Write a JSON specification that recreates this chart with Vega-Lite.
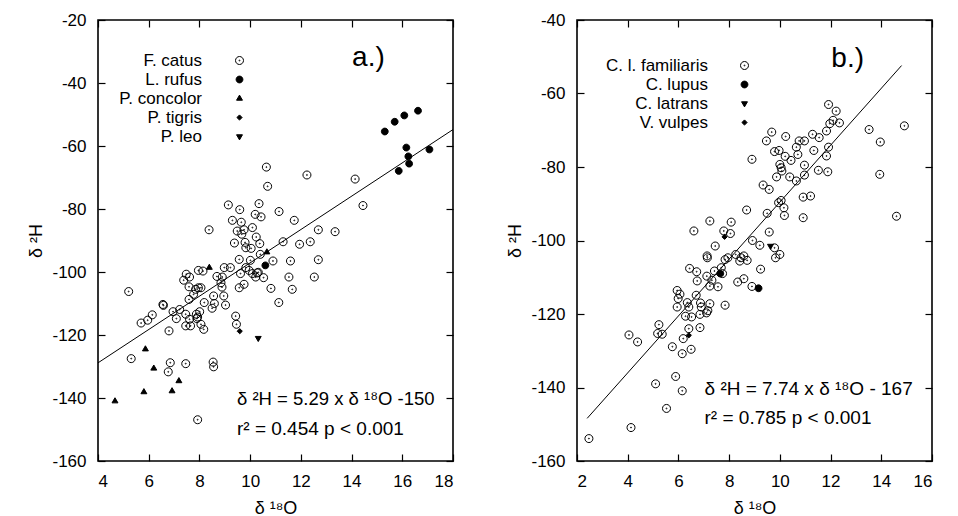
{
  "$schema": "https://vega.github.io/schema/vega-lite/v6.json",
  "padding": {"left": 27, "top": 10, "right": 5, "bottom": 2},
  "background": "white",
  "bounds": "flush",
  "spacing": 124,
  "config": {
    "view": {"stroke": "black", "strokeWidth": 1.6},
    "font": "Liberation Sans",
    "axis": {
      "grid": false, "domain": false, "ticks": true, "tickSize": 7, "offset": -7, "tickColor": "#000000", "tickWidth": 1.2, "tickOpacity": 1,
      "labelFont": "Liberation Sans", "labelFontSize": 17, "labelColor": "black", "labelPadding": 12,
      "labelExpr": "'' + datum.value",
      "titleFont": "Liberation Sans", "titleFontSize": 18, "titleFontWeight": "normal", "titleColor": "black"
    },
    "legend": {"labelFont": "Liberation Sans"}
  },
  "datasets": {
    "cats": [
      {"x":5.21,"y":-106.2,"sp":"F. catus"},{"x":5.31,"y":-127.5,"sp":"F. catus"},{"x":5.70,"y":-116.2,"sp":"F. catus"},{"x":5.96,"y":-115.3,"sp":"F. catus"},{"x":6.14,"y":-113.6,"sp":"F. catus"},{"x":6.56,"y":-110.3,"sp":"F. catus"},{"x":6.58,"y":-110.6,"sp":"F. catus"},{"x":6.96,"y":-112.6,"sp":"F. catus"},{"x":6.80,"y":-118.7,"sp":"F. catus"},{"x":7.09,"y":-114.8,"sp":"F. catus"},{"x":7.22,"y":-111.9,"sp":"F. catus"},{"x":7.38,"y":-102.6,"sp":"F. catus"},{"x":7.48,"y":-100.7,"sp":"F. catus"},{"x":7.61,"y":-101.6,"sp":"F. catus"},{"x":7.46,"y":-113.4,"sp":"F. catus"},{"x":7.46,"y":-117.1,"sp":"F. catus"},{"x":7.61,"y":-115.0,"sp":"F. catus"},{"x":7.65,"y":-117.1,"sp":"F. catus"},{"x":7.59,"y":-108.7,"sp":"F. catus"},{"x":7.59,"y":-104.7,"sp":"F. catus"},{"x":7.77,"y":-107.1,"sp":"F. catus"},{"x":7.88,"y":-113.4,"sp":"F. catus"},{"x":7.90,"y":-114.8,"sp":"F. catus"},{"x":7.85,"y":-105.5,"sp":"F. catus"},{"x":7.96,"y":-105.0,"sp":"F. catus"},{"x":7.96,"y":-99.5,"sp":"F. catus"},{"x":8.14,"y":-99.7,"sp":"F. catus"},{"x":8.06,"y":-105.0,"sp":"F. catus"},{"x":8.01,"y":-112.6,"sp":"F. catus"},{"x":7.93,"y":-114.3,"sp":"F. catus"},{"x":8.06,"y":-116.6,"sp":"F. catus"},{"x":8.17,"y":-118.2,"sp":"F. catus"},{"x":8.19,"y":-109.7,"sp":"F. catus"},{"x":8.50,"y":-111.5,"sp":"F. catus"},{"x":8.56,"y":-107.6,"sp":"F. catus"},{"x":8.59,"y":-110.0,"sp":"F. catus"},{"x":8.38,"y":-86.6,"sp":"F. catus"},{"x":8.69,"y":-101.4,"sp":"F. catus"},{"x":8.85,"y":-103.4,"sp":"F. catus"},{"x":8.90,"y":-101.6,"sp":"F. catus"},{"x":8.89,"y":-104.8,"sp":"F. catus"},{"x":8.96,"y":-107.6,"sp":"F. catus"},{"x":9.03,"y":-110.5,"sp":"F. catus"},{"x":8.98,"y":-98.6,"sp":"F. catus"},{"x":9.22,"y":-98.6,"sp":"F. catus"},{"x":9.14,"y":-78.7,"sp":"F. catus"},{"x":9.30,"y":-83.6,"sp":"F. catus"},{"x":9.38,"y":-90.8,"sp":"F. catus"},{"x":9.49,"y":-87.0,"sp":"F. catus"},{"x":9.59,"y":-80.2,"sp":"F. catus"},{"x":9.65,"y":-84.2,"sp":"F. catus"},{"x":9.67,"y":-88.0,"sp":"F. catus"},{"x":9.76,"y":-86.6,"sp":"F. catus"},{"x":9.80,"y":-90.6,"sp":"F. catus"},{"x":9.83,"y":-92.3,"sp":"F. catus"},{"x":9.57,"y":-96.0,"sp":"F. catus"},{"x":9.62,"y":-100.5,"sp":"F. catus"},{"x":9.57,"y":-105.0,"sp":"F. catus"},{"x":9.76,"y":-103.9,"sp":"F. catus"},{"x":9.83,"y":-98.6,"sp":"F. catus"},{"x":9.96,"y":-99.5,"sp":"F. catus"},{"x":10.01,"y":-96.3,"sp":"F. catus"},{"x":10.04,"y":-92.5,"sp":"F. catus"},{"x":10.09,"y":-85.9,"sp":"F. catus"},{"x":10.20,"y":-81.7,"sp":"F. catus"},{"x":10.24,"y":-88.9,"sp":"F. catus"},{"x":10.35,"y":-78.3,"sp":"F. catus"},{"x":10.43,"y":-82.5,"sp":"F. catus"},{"x":10.38,"y":-91.0,"sp":"F. catus"},{"x":10.40,"y":-94.4,"sp":"F. catus"},{"x":10.32,"y":-100.1,"sp":"F. catus"},{"x":10.28,"y":-100.3,"sp":"F. catus"},{"x":10.09,"y":-100.5,"sp":"F. catus"},{"x":10.22,"y":-101.6,"sp":"F. catus"},{"x":10.53,"y":-101.8,"sp":"F. catus"},{"x":10.64,"y":-66.7,"sp":"F. catus"},{"x":10.69,"y":-72.8,"sp":"F. catus"},{"x":10.90,"y":-96.5,"sp":"F. catus"},{"x":10.82,"y":-105.2,"sp":"F. catus"},{"x":11.14,"y":-80.8,"sp":"F. catus"},{"x":11.13,"y":-109.7,"sp":"F. catus"},{"x":11.30,"y":-90.4,"sp":"F. catus"},{"x":11.59,"y":-96.5,"sp":"F. catus"},{"x":11.53,"y":-101.6,"sp":"F. catus"},{"x":11.66,"y":-105.5,"sp":"F. catus"},{"x":11.74,"y":-83.6,"sp":"F. catus"},{"x":11.95,"y":-91.2,"sp":"F. catus"},{"x":12.24,"y":-69.2,"sp":"F. catus"},{"x":12.37,"y":-90.4,"sp":"F. catus"},{"x":12.69,"y":-86.6,"sp":"F. catus"},{"x":12.69,"y":-96.1,"sp":"F. catus"},{"x":12.53,"y":-101.6,"sp":"F. catus"},{"x":13.35,"y":-87.2,"sp":"F. catus"},{"x":14.14,"y":-70.5,"sp":"F. catus"},{"x":14.45,"y":-78.9,"sp":"F. catus"},{"x":6.85,"y":-128.8,"sp":"F. catus"},{"x":6.77,"y":-131.7,"sp":"F. catus"},{"x":7.46,"y":-129.1,"sp":"F. catus"},{"x":7.93,"y":-146.9,"sp":"F. catus"},{"x":8.54,"y":-128.6,"sp":"F. catus"},{"x":8.56,"y":-130.1,"sp":"F. catus"},{"x":9.43,"y":-114.0,"sp":"F. catus"},{"x":9.46,"y":-116.6,"sp":"F. catus"},
      {"x":15.31,"y":-55.4,"sp":"L. rufus"},{"x":15.70,"y":-52.3,"sp":"L. rufus"},{"x":16.08,"y":-50.3,"sp":"L. rufus"},{"x":16.62,"y":-48.8,"sp":"L. rufus"},{"x":16.16,"y":-60.5,"sp":"L. rufus"},{"x":16.24,"y":-63.3,"sp":"L. rufus"},{"x":16.27,"y":-65.6,"sp":"L. rufus"},{"x":15.86,"y":-67.9,"sp":"L. rufus"},{"x":17.07,"y":-61.1,"sp":"L. rufus"},{"x":10.60,"y":-97.9,"sp":"L. rufus"},
      {"x":4.67,"y":-141.0,"sp":"P. concolor"},{"x":5.87,"y":-124.5,"sp":"P. concolor"},{"x":5.81,"y":-138.1,"sp":"P. concolor"},{"x":6.20,"y":-130.6,"sp":"P. concolor"},{"x":6.92,"y":-137.8,"sp":"P. concolor"},{"x":7.19,"y":-134.6,"sp":"P. concolor"},{"x":8.39,"y":-98.6,"sp":"P. concolor"},{"x":10.66,"y":-93.7,"sp":"P. concolor"},
      {"x":9.59,"y":-118.8,"sp":"P. tigris"},
      {"x":10.32,"y":-121.0,"sp":"P. leo"}
    ],
    "catline": [{"x":4,"y":-128.84},{"x":18,"y":-54.78}],
    "dogs": [
      {"x":2.47,"y":-153.9,"sp":"C. l. familiaris"},{"x":4.05,"y":-125.7,"sp":"C. l. familiaris"},{"x":4.39,"y":-127.6,"sp":"C. l. familiaris"},{"x":4.13,"y":-150.9,"sp":"C. l. familiaris"},{"x":5.10,"y":-139.0,"sp":"C. l. familiaris"},{"x":5.53,"y":-145.7,"sp":"C. l. familiaris"},{"x":5.89,"y":-137.0,"sp":"C. l. familiaris"},{"x":6.15,"y":-140.9,"sp":"C. l. familiaris"},{"x":5.23,"y":-122.9,"sp":"C. l. familiaris"},{"x":5.18,"y":-125.3,"sp":"C. l. familiaris"},{"x":5.36,"y":-125.5,"sp":"C. l. familiaris"},{"x":5.76,"y":-128.9,"sp":"C. l. familiaris"},{"x":6.15,"y":-130.8,"sp":"C. l. familiaris"},{"x":6.19,"y":-126.7,"sp":"C. l. familiaris"},{"x":6.50,"y":-129.6,"sp":"C. l. familiaris"},{"x":6.41,"y":-124.0,"sp":"C. l. familiaris"},{"x":6.85,"y":-123.7,"sp":"C. l. familiaris"},{"x":5.95,"y":-118.1,"sp":"C. l. familiaris"},{"x":5.99,"y":-115.8,"sp":"C. l. familiaris"},{"x":5.95,"y":-113.6,"sp":"C. l. familiaris"},{"x":6.06,"y":-114.6,"sp":"C. l. familiaris"},{"x":6.35,"y":-116.9,"sp":"C. l. familiaris"},{"x":6.41,"y":-118.1,"sp":"C. l. familiaris"},{"x":6.28,"y":-120.6,"sp":"C. l. familiaris"},{"x":6.52,"y":-120.8,"sp":"C. l. familiaris"},{"x":6.70,"y":-114.9,"sp":"C. l. familiaris"},{"x":6.44,"y":-107.6,"sp":"C. l. familiaris"},{"x":6.72,"y":-108.5,"sp":"C. l. familiaris"},{"x":6.74,"y":-111.0,"sp":"C. l. familiaris"},{"x":6.61,"y":-97.4,"sp":"C. l. familiaris"},{"x":6.87,"y":-117.0,"sp":"C. l. familiaris"},{"x":6.90,"y":-118.1,"sp":"C. l. familiaris"},{"x":6.85,"y":-120.1,"sp":"C. l. familiaris"},{"x":7.12,"y":-109.7,"sp":"C. l. familiaris"},{"x":7.14,"y":-104.7,"sp":"C. l. familiaris"},{"x":7.13,"y":-104.2,"sp":"C. l. familiaris"},{"x":7.24,"y":-94.7,"sp":"C. l. familiaris"},{"x":7.16,"y":-119.1,"sp":"C. l. familiaris"},{"x":7.24,"y":-117.2,"sp":"C. l. familiaris"},{"x":7.11,"y":-119.7,"sp":"C. l. familiaris"},{"x":7.24,"y":-112.4,"sp":"C. l. familiaris"},{"x":7.32,"y":-110.8,"sp":"C. l. familiaris"},{"x":7.42,"y":-108.3,"sp":"C. l. familiaris"},{"x":7.45,"y":-101.5,"sp":"C. l. familiaris"},{"x":7.56,"y":-112.6,"sp":"C. l. familiaris"},{"x":7.69,"y":-107.4,"sp":"C. l. familiaris"},{"x":7.74,"y":-109.0,"sp":"C. l. familiaris"},{"x":7.79,"y":-97.4,"sp":"C. l. familiaris"},{"x":7.84,"y":-117.6,"sp":"C. l. familiaris"},{"x":7.84,"y":-105.2,"sp":"C. l. familiaris"},{"x":7.95,"y":-104.7,"sp":"C. l. familiaris"},{"x":8.05,"y":-98.1,"sp":"C. l. familiaris"},{"x":8.08,"y":-95.0,"sp":"C. l. familiaris"},{"x":8.26,"y":-103.8,"sp":"C. l. familiaris"},{"x":8.42,"y":-105.6,"sp":"C. l. familiaris"},{"x":8.47,"y":-104.7,"sp":"C. l. familiaris"},{"x":8.58,"y":-104.2,"sp":"C. l. familiaris"},{"x":8.71,"y":-105.4,"sp":"C. l. familiaris"},{"x":8.34,"y":-111.3,"sp":"C. l. familiaris"},{"x":8.58,"y":-110.4,"sp":"C. l. familiaris"},{"x":8.90,"y":-112.5,"sp":"C. l. familiaris"},{"x":8.69,"y":-91.7,"sp":"C. l. familiaris"},{"x":8.92,"y":-100.0,"sp":"C. l. familiaris"},{"x":9.21,"y":-101.3,"sp":"C. l. familiaris"},{"x":9.24,"y":-107.8,"sp":"C. l. familiaris"},{"x":8.90,"y":-77.9,"sp":"C. l. familiaris"},{"x":9.34,"y":-84.9,"sp":"C. l. familiaris"},{"x":9.58,"y":-86.1,"sp":"C. l. familiaris"},{"x":9.47,"y":-72.9,"sp":"C. l. familiaris"},{"x":9.68,"y":-70.5,"sp":"C. l. familiaris"},{"x":9.50,"y":-92.6,"sp":"C. l. familiaris"},{"x":9.58,"y":-97.7,"sp":"C. l. familiaris"},{"x":9.79,"y":-75.8,"sp":"C. l. familiaris"},{"x":9.87,"y":-82.7,"sp":"C. l. familiaris"},{"x":9.97,"y":-75.5,"sp":"C. l. familiaris"},{"x":10.00,"y":-79.3,"sp":"C. l. familiaris"},{"x":9.95,"y":-89.7,"sp":"C. l. familiaris"},{"x":10.05,"y":-89.1,"sp":"C. l. familiaris"},{"x":10.05,"y":-80.2,"sp":"C. l. familiaris"},{"x":10.08,"y":-81.1,"sp":"C. l. familiaris"},{"x":10.16,"y":-91.1,"sp":"C. l. familiaris"},{"x":10.18,"y":-93.2,"sp":"C. l. familiaris"},{"x":10.21,"y":-77.1,"sp":"C. l. familiaris"},{"x":10.23,"y":-71.7,"sp":"C. l. familiaris"},{"x":10.39,"y":-82.7,"sp":"C. l. familiaris"},{"x":10.44,"y":-78.2,"sp":"C. l. familiaris"},{"x":10.65,"y":-83.8,"sp":"C. l. familiaris"},{"x":10.65,"y":-74.6,"sp":"C. l. familiaris"},{"x":10.71,"y":-76.6,"sp":"C. l. familiaris"},{"x":10.76,"y":-72.9,"sp":"C. l. familiaris"},{"x":10.97,"y":-72.9,"sp":"C. l. familiaris"},{"x":10.97,"y":-79.5,"sp":"C. l. familiaris"},{"x":10.97,"y":-82.2,"sp":"C. l. familiaris"},{"x":10.92,"y":-88.2,"sp":"C. l. familiaris"},{"x":10.92,"y":-93.8,"sp":"C. l. familiaris"},{"x":11.21,"y":-87.9,"sp":"C. l. familiaris"},{"x":11.29,"y":-71.1,"sp":"C. l. familiaris"},{"x":11.34,"y":-75.5,"sp":"C. l. familiaris"},{"x":11.55,"y":-72.0,"sp":"C. l. familiaris"},{"x":11.52,"y":-80.9,"sp":"C. l. familiaris"},{"x":11.84,"y":-70.2,"sp":"C. l. familiaris"},{"x":11.84,"y":-77.0,"sp":"C. l. familiaris"},{"x":11.89,"y":-81.3,"sp":"C. l. familiaris"},{"x":11.92,"y":-74.6,"sp":"C. l. familiaris"},{"x":11.92,"y":-63.0,"sp":"C. l. familiaris"},{"x":11.97,"y":-68.2,"sp":"C. l. familiaris"},{"x":12.10,"y":-67.3,"sp":"C. l. familiaris"},{"x":12.22,"y":-64.8,"sp":"C. l. familiaris"},{"x":12.35,"y":-68.0,"sp":"C. l. familiaris"},{"x":13.52,"y":-69.8,"sp":"C. l. familiaris"},{"x":13.96,"y":-73.2,"sp":"C. l. familiaris"},{"x":13.94,"y":-82.0,"sp":"C. l. familiaris"},{"x":14.60,"y":-93.4,"sp":"C. l. familiaris"},{"x":14.91,"y":-68.8,"sp":"C. l. familiaris"},{"x":9.83,"y":-104.7,"sp":"C. l. familiaris"},{"x":10.00,"y":-103.8,"sp":"C. l. familiaris"},{"x":9.79,"y":-102.0,"sp":"C. l. familiaris"},
      {"x":7.65,"y":-109.0,"sp":"C. lupus"},{"x":9.16,"y":-113.0,"sp":"C. lupus"},
      {"x":9.63,"y":-101.5,"sp":"C. latrans"},
      {"x":7.82,"y":-99.0,"sp":"V. vulpes"},{"x":6.41,"y":-125.8,"sp":"V. vulpes"}
    ],
    "dogline": [{"x":2.4,"y":-148.4},{"x":14.8,"y":-52.4}]
  },
  "hconcat": [
    {
      "width": 355, "height": 441,
      "layer": [
        {
          "data": {"name": "cats"},
          "mark": {"type": "point", "filled": false, "strokeWidth": 1, "opacity": 1, "size": 64},
          "encoding": {
            "x": {"field": "x", "type": "quantitative", "scale": {"domain": [4, 18], "nice": false, "zero": false},
                  "axis": {"orient": "bottom", "values": [4, 6, 8, 10, 12, 14, 16, 18], "title": "δ ¹⁸O", "titlePadding": 10, "ticks": true, "tickSize": 7, "tickColor": "black", "tickWidth": 1.2, "offset": -7}},
            "y": {"field": "y", "type": "quantitative", "scale": {"domain": [-160, -20], "nice": false, "zero": false},
                  "axis": {"orient": "left", "values": [-160, -140, -120, -100, -80, -60, -40, -20], "title": "δ ²H", "titlePadding": 6, "ticks": true, "tickSize": 7, "tickColor": "black", "tickWidth": 1.2, "offset": -7}},
            "shape": {"field": "sp", "type": "nominal",
              "scale": {"domain": ["F. catus", "L. rufus", "P. concolor", "P. tigris", "P. leo"],
                        "range": ["M-1,0A1,1 0 1,0 1,0A1,1 0 1,0 -1,0ZM-0.12,0A0.12,0.12 0 1,0 0.12,0A0.12,0.12 0 1,0 -0.12,0Z",
                                  "M-0.85,0A0.85,0.85 0 1,0 0.85,0A0.85,0.85 0 1,0 -0.85,0Z",
                                  "M0,-0.85L0.74,0.43L-0.74,0.43Z",
                                  "M0,-0.65L0.65,0L0,0.65L-0.65,0Z",
                                  "M0,0.85L0.74,-0.43L-0.74,-0.43Z"]},
              "legend": {"title": null, "orient": "none", "legendX": 133, "legendY": 32, "labelAlign": "right", "labelOffset": -46, "labelFontSize": 17, "labelColor": "black", "labelLimit": 0, "rowPadding": 1, "padding": 0, "symbolSize": 64, "symbolStrokeColor": "black", "symbolStrokeWidth": 1}},
            "fill": {"field": "sp", "type": "nominal",
              "scale": {"domain": ["F. catus", "L. rufus", "P. concolor", "P. tigris", "P. leo"],
                        "range": ["transparent", "black", "black", "black", "black"]},
              "legend": {"title": null, "orient": "none", "legendX": 133, "legendY": 32, "labelAlign": "right", "labelOffset": -46, "labelFontSize": 17, "labelColor": "black", "labelLimit": 0, "rowPadding": 1, "padding": 0, "symbolSize": 64, "symbolStrokeColor": "black", "symbolStrokeWidth": 1}},
            "stroke": {"field": "sp", "type": "nominal",
              "scale": {"domain": ["F. catus", "L. rufus", "P. concolor", "P. tigris", "P. leo"],
                        "range": ["black", "black", "black", "black", "black"]},
              "legend": {"title": null, "orient": "none", "legendX": 133, "legendY": 32, "labelAlign": "right", "labelOffset": -46, "labelFontSize": 17, "labelColor": "black", "labelLimit": 0, "rowPadding": 1, "padding": 0, "symbolSize": 64, "symbolStrokeColor": "black", "symbolStrokeWidth": 1}}
          }
        },
        {
          "data": {"name": "catline"},
          "mark": {"type": "line", "color": "black", "strokeWidth": 1},
          "encoding": {
            "x": {"field": "x", "type": "quantitative", "axis": {"orient": "top", "values": [4, 6, 8, 10, 12, 14, 16, 18], "labels": false, "title": null, "ticks": true, "tickSize": 7, "tickColor": "black", "tickWidth": 1.2, "offset": -7}},
            "y": {"field": "y", "type": "quantitative", "axis": {"orient": "right", "values": [-160, -140, -120, -100, -80, -60, -40, -20], "labels": false, "title": null, "ticks": true, "tickSize": 7, "tickColor": "black", "tickWidth": 1.2, "offset": -7}}
          }
        },
        {
          "data": {"values": [{}]},
          "mark": {"type": "text", "align": "left", "baseline": "middle", "fontSize": 18.5, "font": "Liberation Sans", "color": "black"},
          "encoding": {"x": {"datum": 9.48, "type": "quantitative", "axis": null}, "y": {"datum": -140.3, "type": "quantitative", "axis": null}, "text": {"value": "δ ²H = 5.29 x δ ¹⁸O -150"}}
        },
        {
          "data": {"values": [{}]},
          "mark": {"type": "text", "align": "left", "baseline": "middle", "fontSize": 19, "font": "Liberation Sans", "color": "black"},
          "encoding": {"x": {"datum": 9.48, "type": "quantitative", "axis": null}, "y": {"datum": -149.8, "type": "quantitative", "axis": null}, "text": {"value": "r² = 0.454 p < 0.001"}}
        },
        {
          "data": {"values": [{}]},
          "mark": {"type": "text", "align": "left", "baseline": "middle", "fontSize": 28, "font": "Liberation Sans", "color": "black"},
          "encoding": {"x": {"datum": 14.02, "type": "quantitative", "axis": null}, "y": {"datum": -32.1, "type": "quantitative", "axis": null}, "text": {"value": "a.)"}}
        }
      ],
      "resolve": {"axis": {"x": "independent", "y": "independent"}}
    },
    {
      "width": 355, "height": 441,
      "layer": [
        {
          "data": {"name": "dogs"},
          "mark": {"type": "point", "filled": false, "strokeWidth": 1, "opacity": 1, "size": 64},
          "encoding": {
            "x": {"field": "x", "type": "quantitative", "scale": {"domain": [2, 16], "nice": false, "zero": false},
                  "axis": {"orient": "bottom", "values": [2, 4, 6, 8, 10, 12, 14, 16], "title": "δ ¹⁸O", "titlePadding": 10, "ticks": true, "tickSize": 7, "tickColor": "black", "tickWidth": 1.2, "offset": -7}},
            "y": {"field": "y", "type": "quantitative", "scale": {"domain": [-160, -40], "nice": false, "zero": false},
                  "axis": {"orient": "left", "values": [-160, -140, -120, -100, -80, -60, -40], "title": "δ ²H", "titlePadding": 6, "ticks": true, "tickSize": 7, "tickColor": "black", "tickWidth": 1.2, "offset": -7}},
            "shape": {"field": "sp", "type": "nominal",
              "scale": {"domain": ["C. l. familiaris", "C. lupus", "C. latrans", "V. vulpes"],
                        "range": ["M-1,0A1,1 0 1,0 1,0A1,1 0 1,0 -1,0ZM-0.12,0A0.12,0.12 0 1,0 0.12,0A0.12,0.12 0 1,0 -0.12,0Z",
                                  "M-0.85,0A0.85,0.85 0 1,0 0.85,0A0.85,0.85 0 1,0 -0.85,0Z",
                                  "M0,0.85L0.74,-0.43L-0.74,-0.43Z",
                                  "M0,-0.65L0.65,0L0,0.65L-0.65,0Z"]},
              "legend": {"title": null, "orient": "none", "legendX": 159, "legendY": 37, "labelAlign": "right", "labelOffset": -45, "labelFontSize": 17, "labelColor": "black", "labelLimit": 0, "rowPadding": 1, "padding": 0, "symbolSize": 64, "symbolStrokeColor": "black", "symbolStrokeWidth": 1}},
            "fill": {"field": "sp", "type": "nominal",
              "scale": {"domain": ["C. l. familiaris", "C. lupus", "C. latrans", "V. vulpes"],
                        "range": ["transparent", "black", "black", "black"]},
              "legend": {"title": null, "orient": "none", "legendX": 159, "legendY": 37, "labelAlign": "right", "labelOffset": -45, "labelFontSize": 17, "labelColor": "black", "labelLimit": 0, "rowPadding": 1, "padding": 0, "symbolSize": 64, "symbolStrokeColor": "black", "symbolStrokeWidth": 1}},
            "stroke": {"field": "sp", "type": "nominal",
              "scale": {"domain": ["C. l. familiaris", "C. lupus", "C. latrans", "V. vulpes"],
                        "range": ["black", "black", "black", "black"]},
              "legend": {"title": null, "orient": "none", "legendX": 159, "legendY": 37, "labelAlign": "right", "labelOffset": -45, "labelFontSize": 17, "labelColor": "black", "labelLimit": 0, "rowPadding": 1, "padding": 0, "symbolSize": 64, "symbolStrokeColor": "black", "symbolStrokeWidth": 1}}
          }
        },
        {
          "data": {"name": "dogline"},
          "mark": {"type": "line", "color": "black", "strokeWidth": 1},
          "encoding": {
            "x": {"field": "x", "type": "quantitative", "axis": {"orient": "top", "values": [2, 4, 6, 8, 10, 12, 14, 16], "labels": false, "title": null, "ticks": true, "tickSize": 7, "tickColor": "black", "tickWidth": 1.2, "offset": -7}},
            "y": {"field": "y", "type": "quantitative", "axis": {"orient": "right", "values": [-160, -140, -120, -100, -80, -60, -40], "labels": false, "title": null, "ticks": true, "tickSize": 7, "tickColor": "black", "tickWidth": 1.2, "offset": -7}}
          }
        },
        {
          "data": {"values": [{}]},
          "mark": {"type": "text", "align": "left", "baseline": "middle", "fontSize": 19, "font": "Liberation Sans", "color": "black"},
          "encoding": {"x": {"datum": 7.03, "type": "quantitative", "axis": null}, "y": {"datum": -140.4, "type": "quantitative", "axis": null}, "text": {"value": "δ ²H = 7.74 x δ ¹⁸O  - 167"}}
        },
        {
          "data": {"values": [{}]},
          "mark": {"type": "text", "align": "left", "baseline": "middle", "fontSize": 19, "font": "Liberation Sans", "color": "black"},
          "encoding": {"x": {"datum": 7.03, "type": "quantitative", "axis": null}, "y": {"datum": -148.3, "type": "quantitative", "axis": null}, "text": {"value": "r² = 0.785 p < 0.001"}}
        },
        {
          "data": {"values": [{}]},
          "mark": {"type": "text", "align": "left", "baseline": "middle", "fontSize": 28, "font": "Liberation Sans", "color": "black"},
          "encoding": {"x": {"datum": 12.03, "type": "quantitative", "axis": null}, "y": {"datum": -50.6, "type": "quantitative", "axis": null}, "text": {"value": "b.)"}}
        }
      ],
      "resolve": {"axis": {"x": "independent", "y": "independent"}}
    }
  ],
  "resolve": {"scale": {"shape": "independent", "fill": "independent", "stroke": "independent"}, "legend": {"shape": "independent", "fill": "independent", "stroke": "independent"}}
}
